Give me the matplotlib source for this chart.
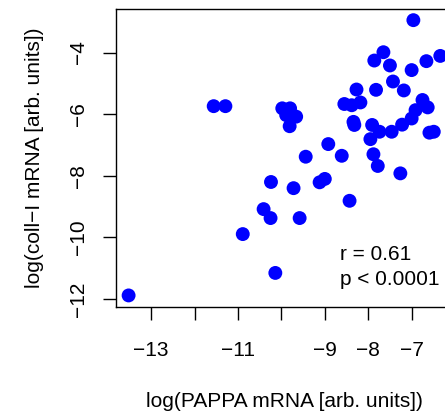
import matplotlib.pyplot as plt

plt.rcParams["font.family"] = ["Liberation Sans", "DejaVu Sans"]

# log(PAPPA mRNA) vs log(coll-I mRNA)
pappa = [-13.52, -11.56, -11.29, -9.98, -9.80, -9.89, -9.66, -9.81,
         -10.89, -10.14, -10.24, -10.41, -10.25, -9.72, -9.58, -9.44,
         -9.12, -9.00, -8.92, -8.61, -8.43, -8.55, -8.38, -8.18,
         -8.27, -8.34, -8.32, -7.91, -7.95, -7.74, -7.46, -7.88,
         -7.78, -7.26, -7.82, -7.86, -7.65, -7.50, -7.43, -7.18,
         -7.00, -6.96, -6.66, -6.34, -6.75, -6.63, -6.91, -7.00,
         -7.22, -6.59, -6.49]
coll = [-11.88, -5.74, -5.74, -5.81, -5.81, -6.03, -6.08, -6.39,
        -9.89, -11.15, -8.20, -9.08, -9.37, -8.40, -9.37, -7.38,
        -8.21, -8.10, -6.97, -7.35, -8.81, -5.67, -5.71, -5.62,
        -5.20, -6.25, -6.35, -6.35, -6.81, -6.57, -6.57, -7.30,
        -7.68, -7.92, -5.21, -4.26, -3.99, -4.42, -4.94, -5.23,
        -4.57, -2.95, -4.28, -4.11, -5.54, -5.78, -5.87, -6.14,
        -6.34, -6.60, -6.57]

x_ticks = [-13, -12, -11, -10, -9, -8, -7]
x_labels = ["\u221213", "", "\u221211", "", "\u22129", "\u22128", "\u22127"]
y_ticks = [-12, -10, -8, -6, -4]
y_labels = ["\u221212", "\u221210", "\u22128", "\u22126", "\u22124"]

fig = plt.figure(figsize=(4.45, 4.12), dpi=100)
ax = fig.add_axes([0.2607, 0.256, 0.757, 0.722])

ax.scatter(pappa, coll, s=100, color="#0000ff", edgecolors="none", zorder=3)

ax.set_xlim(-13.81, -6.05)
ax.set_ylim(-12.24, -2.59)
ax.set_xticks(x_ticks)
ax.set_xticklabels(x_labels)
ax.set_yticks(y_ticks)
ax.set_yticklabels(y_labels, rotation=90, va="center")
ax.tick_params(direction="out", length=9.5, width=1, labelsize=15)
ax.tick_params(axis="x", pad=15)
ax.tick_params(axis="y", pad=11)
for sp in ax.spines.values():
    sp.set_linewidth(1)

ax.set_xlabel("log(PAPPA mRNA [arb. units])", fontsize=15, labelpad=23)
ax.set_ylabel("log(coll\u2212I mRNA [arb. units])", fontsize=15, labelpad=18)

ax.text(-8.66, -10.56, "r = 0.61", fontsize=15, va="center", ha="left")
ax.text(-8.66, -11.37, "p < 0.0001", fontsize=15, va="center", ha="left")

fig.savefig("out.png", dpi=100)
